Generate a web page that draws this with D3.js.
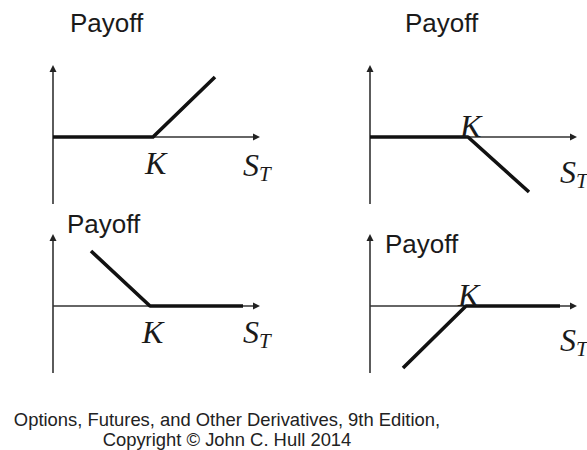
<!DOCTYPE html>
<html>
<head>
<meta charset="utf-8">
<script src="https://cdn.jsdelivr.net/npm/d3@7"></script>
<style>
  html, body { margin: 0; padding: 0; background: #fff; }
  svg { display: block; }
</style>
</head>
<body>
<svg id="chart" width="587" height="450"></svg>
<script>
// ---- data (S_T in axis units, payoff in axis units) ----
const panelNames = ["Long call", "Short call", "Long put", "Short put"];
const strikes = [100, 98, 97, 96];
const payoffS = [
  [0, 100, 162],
  [0, 98, 159],
  [38, 97, 190],
  [33, 96, 190]
];
const payoffV = [
  [0, 0, 60],
  [0, 0, -55],
  [55, 0, 0],
  [-62, 0, 0]
];
const axisTitleY = "Payoff";
const axisTitleX = "S";
const axisTitleXSub = "T";
const strikeLabel = "K";
const footerLines = [
  "Options, Futures, and Other Derivatives, 9th Edition,",
  "Copyright \u00A9 John C. Hull 2014"
];

// ---- layout ----
const svg = d3.select("#chart");
const origins = [[53, 137], [370, 137], [53, 306], [370, 306]];
const payoffLabelPos = [[70, 32], [405, 32], [67, 233], [385, 253]];
const kLabelAbove = [false, true, false, true];
const sLabelDy = [39, 46, 37, 45];

const sDomain = [0, 207];
const vDomain = [-67, 72];

panelNames.forEach((name, i) => {
  const [ox, oy] = origins[i];
  const x = d3.scaleLinear().domain(sDomain).range([ox, ox + 207]);
  const y = d3.scaleLinear().domain(vDomain).range([oy + 67, oy - 72]);
  const g = svg.append("g").attr("class", "panel").attr("data-name", name);

  // axes
  g.append("line")
    .attr("x1", x(0)).attr("x2", x(sDomain[1]) - 5)
    .attr("y1", y(0)).attr("y2", y(0))
    .attr("stroke", "#333").attr("stroke-width", 1.6);
  g.append("line")
    .attr("x1", x(0)).attr("x2", x(0))
    .attr("y1", y(vDomain[0])).attr("y2", y(vDomain[1]) + 5)
    .attr("stroke", "#333").attr("stroke-width", 1.6);
  // arrow heads
  const ax = x(sDomain[1]), ay = y(0);
  g.append("path")
    .attr("d", `M${ax},${ay} L${ax - 7},${ay - 3.5} L${ax - 7},${ay + 3.5} Z`)
    .attr("fill", "#222");
  const vx = x(0), vy = y(vDomain[1]);
  g.append("path")
    .attr("d", `M${vx},${vy} L${vx - 3.5},${vy + 7} L${vx + 3.5},${vy + 7} Z`)
    .attr("fill", "#222");

  // payoff line
  const pts = payoffS[i].map((s, j) => [s, payoffV[i][j]]);
  const line = d3.line().x(d => x(d[0])).y(d => y(d[1]));
  g.append("path")
    .attr("d", line(pts))
    .attr("fill", "none")
    .attr("stroke", "#111")
    .attr("stroke-width", 3.6)
    .attr("stroke-linejoin", "round");

  // labels
  g.append("text")
    .attr("x", payoffLabelPos[i][0]).attr("y", payoffLabelPos[i][1])
    .attr("font-family", "'Liberation Sans', Arial, sans-serif")
    .attr("font-size", 26).attr("fill", "#1a1a1a")
    .text(axisTitleY);

  const kx = x(strikes[i]);
  g.append("text")
    .attr("x", kx - 8).attr("y", kLabelAbove[i] ? y(0) : y(0) + 37)
    .attr("font-family", "'Liberation Serif', 'Times New Roman', serif")
    .attr("font-style", "italic")
    .attr("font-size", 32).attr("fill", "#1a1a1a")
    .text(strikeLabel);

  const st = g.append("text")
    .attr("x", ox + 190).attr("y", oy + sLabelDy[i])
    .attr("font-family", "'Liberation Serif', 'Times New Roman', serif")
    .attr("font-style", "italic")
    .attr("font-size", 32).attr("fill", "#1a1a1a");
  st.append("tspan").text(axisTitleX);
  st.append("tspan").attr("font-size", 21).attr("dy", 5).text(axisTitleXSub);
});

// footer
svg.append("g").selectAll("text")
  .data(footerLines)
  .join("text")
  .attr("x", 227)
  .attr("y", (d, i) => 426 + i * 20)
  .attr("text-anchor", "middle")
  .attr("font-family", "'Liberation Sans', Arial, sans-serif")
  .attr("font-size", 18.4)
  .attr("fill", "#222")
  .text(d => d);
</script>
</body>
</html>
